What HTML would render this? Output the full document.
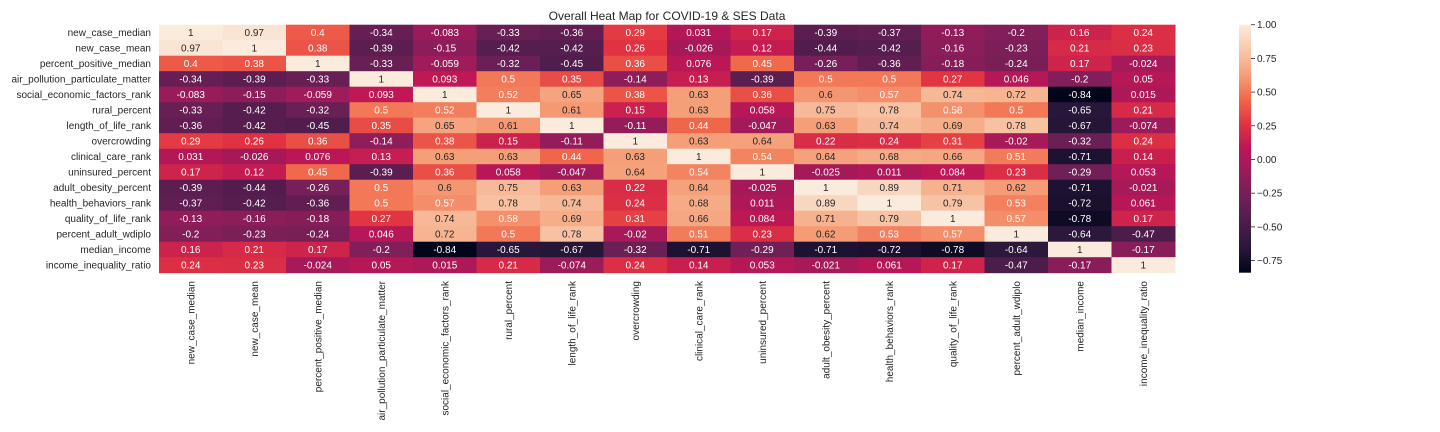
<!DOCTYPE html>
<html><head><meta charset="utf-8">
<style>
html,body{margin:0;padding:0;background:#fff;}
svg{display:block;font-family:"Liberation Sans",Arial,sans-serif;}
</style></head>
<body>
<svg id="chart" width="1440" height="432" viewBox="0 0 1440 432" xmlns="http://www.w3.org/2000/svg">
<rect width="1440" height="432" fill="#fff"/>
<text x="667" y="20" text-anchor="middle" font-size="12" fill="#262626">Overall Heat Map for COVID-19 &amp; SES Data</text>
<g id="cells"></g>
<g id="ylabels"></g>
<g id="xlabels"></g>
<defs><linearGradient id="cbgrad" x1="0" y1="1" x2="0" y2="0"></linearGradient></defs>
<rect x="1239" y="24.7" width="12" height="248" fill="url(#cbgrad)"/>
<g id="cbticks"></g>
</svg>
<script>
const labels = ["new_case_median","new_case_mean","percent_positive_median","air_pollution_particulate_matter","social_economic_factors_rank","rural_percent","length_of_life_rank","overcrowding","clinical_care_rank","uninsured_percent","adult_obesity_percent","health_behaviors_rank","quality_of_life_rank","percent_adult_wdiplo","median_income","income_inequality_ratio"];
const row0 = [1,0.97,0.4,-0.34,-0.083,-0.33,-0.36,0.29,0.031,0.17,-0.39,-0.37,-0.13,-0.2,0.16,0.24];
const row1 = [0.97,1,0.38,-0.39,-0.15,-0.42,-0.42,0.26,-0.026,0.12,-0.44,-0.42,-0.16,-0.23,0.21,0.23];
const row2 = [0.4,0.38,1,-0.33,-0.059,-0.32,-0.45,0.36,0.076,0.45,-0.26,-0.36,-0.18,-0.24,0.17,-0.024];
const row3 = [-0.34,-0.39,-0.33,1,0.093,0.5,0.35,-0.14,0.13,-0.39,0.5,0.5,0.27,0.046,-0.2,0.05];
const row4 = [-0.083,-0.15,-0.059,0.093,1,0.52,0.65,0.38,0.63,0.36,0.6,0.57,0.74,0.72,-0.84,0.015];
const row5 = [-0.33,-0.42,-0.32,0.5,0.52,1,0.61,0.15,0.63,0.058,0.75,0.78,0.58,0.5,-0.65,0.21];
const row6 = [-0.36,-0.42,-0.45,0.35,0.65,0.61,1,-0.11,0.44,-0.047,0.63,0.74,0.69,0.78,-0.67,-0.074];
const row7 = [0.29,0.26,0.36,-0.14,0.38,0.15,-0.11,1,0.63,0.64,0.22,0.24,0.31,-0.02,-0.32,0.24];
const row8 = [0.031,-0.026,0.076,0.13,0.63,0.63,0.44,0.63,1,0.54,0.64,0.68,0.66,0.51,-0.71,0.14];
const row9 = [0.17,0.12,0.45,-0.39,0.36,0.058,-0.047,0.64,0.54,1,-0.025,0.011,0.084,0.23,-0.29,0.053];
const row10 = [-0.39,-0.44,-0.26,0.5,0.6,0.75,0.63,0.22,0.64,-0.025,1,0.89,0.71,0.62,-0.71,-0.021];
const row11 = [-0.37,-0.42,-0.36,0.5,0.57,0.78,0.74,0.24,0.68,0.011,0.89,1,0.79,0.53,-0.72,0.061];
const row12 = [-0.13,-0.16,-0.18,0.27,0.74,0.58,0.69,0.31,0.66,0.084,0.71,0.79,1,0.57,-0.78,0.17];
const row13 = [-0.2,-0.23,-0.24,0.046,0.72,0.5,0.78,-0.02,0.51,0.23,0.62,0.53,0.57,1,-0.64,-0.47];
const row14 = [0.16,0.21,0.17,-0.2,-0.84,-0.65,-0.67,-0.32,-0.71,-0.29,-0.71,-0.72,-0.78,-0.64,1,-0.17];
const row15 = [0.24,0.23,-0.024,0.05,0.015,0.21,-0.074,0.24,0.14,0.053,-0.021,0.061,0.17,-0.47,-0.17,1];
const matrix = [row0,row1,row2,row3,row4,row5,row6,row7,row8,row9,row10,row11,row12,row13,row14,row15];
const cbTicks = [1.0,0.75,0.5,0.25,0,-0.25,-0.5,-0.75];
const cbTickLabels = ["1.00","0.75","0.50","0.25","0.00","\u22120.25","\u22120.50","\u22120.75"];

const NS = "http://www.w3.org/2000/svg";
const X0 = 159, X1 = 1175, Y0 = 24.7, Y1 = 272.7;
const vmin = -0.84, vmax = 1.0;
const n = labels.length;
const cw = (X1 - X0) / n, ch = (Y1 - Y0) / n;
const xPos = i => X0 + i * cw;
const yPos = j => Y0 + j * ch;
const cbY = v => Y1 - (v - vmin) / (vmax - vmin) * (Y1 - Y0);

const stops = [[3,5,26],[40,23,58],[76,29,75],[112,31,87],[150,28,91],[188,22,86],[225,51,66],[241,104,74],[245,160,122],[247,201,172],[250,235,221]];
function cmap(v){
  let t = (v - vmin) / (vmax - vmin); t = Math.max(0, Math.min(1, t));
  const p = t * (stops.length - 1), i = Math.min(Math.floor(p), stops.length - 2), f = p - i;
  return stops[i].map((c,k) => Math.round(c + (stops[i+1][k] - c) * f));
}
function lum(rgb){
  const c = rgb.map(x => { x/=255; return x <= 0.03928 ? x/12.92 : Math.pow((x+0.055)/1.055,2.4); });
  return 0.2126*c[0] + 0.7152*c[1] + 0.0722*c[2];
}
function mk(tag, attrs, parent){ const e = document.createElementNS(NS, tag); for (const k in attrs) e.setAttribute(k, attrs[k]); parent.appendChild(e); return e; }

const cells = document.getElementById('cells');
matrix.forEach((row, j) => {
  row.forEach((v, i) => {
    const rgb = cmap(v);
    const r = mk('rect', {x: xPos(i), y: yPos(j), width: cw + 0.5, height: ch + 0.5, fill: `rgb(${rgb.join(',')})`}, cells);
    
    
    const t = mk('text', {x: xPos(i) + cw/2, y: yPos(j) + ch/2 + 3.5, 'text-anchor': 'middle', 'font-size': 10, fill: lum(rgb) > 0.408 ? '#262626' : '#ffffff'}, cells);
    
    
    t.textContent = String(v);
  });
});

const yl = document.getElementById('ylabels');
labels.forEach((l, j) => {
  const t = mk('text', {x: 151, y: yPos(j) + ch/2 + 3.5, 'text-anchor': 'end', 'font-size': 10, fill: '#262626'}, yl);
  
  
  t.textContent = l;
});
const xl = document.getElementById('xlabels');
labels.forEach((l, i) => {
  const cx = xPos(i) + cw/2 + 3.5, cy = 281;
  const t = mk('text', {x: cx, y: cy, 'text-anchor': 'end', 'font-size': 10, fill: '#262626', transform: `rotate(-90 ${cx} ${cy})`}, xl);
  
  
  t.textContent = l;
});

const grad = document.getElementById('cbgrad');
for (let k = 0; k <= 20; k++) {
  const v = vmin + (vmax - vmin) * k / 20;
  mk('stop', {offset: (k/20).toFixed(3), 'stop-color': `rgb(${cmap(v).join(',')})`}, grad);
}
const cbt = document.getElementById('cbticks');
cbTicks.forEach((v, k) => {
  const y = cbY(v);
  const ln = mk('line', {x1: 1251, x2: 1255, y1: y, y2: y, stroke: '#262626', 'stroke-width': 0.8}, cbt);
  
  
  const t = mk('text', {x: 1257, y: y + 3.5, 'font-size': 10, fill: '#262626'}, cbt);
  
  
  t.textContent = cbTickLabels[k];
});
</script>
</body></html>
